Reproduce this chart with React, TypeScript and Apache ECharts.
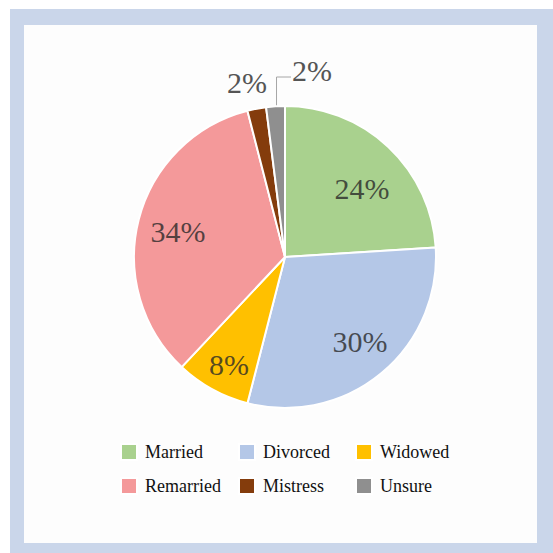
import React, { useEffect, useRef } from "react";
import * as echarts from "echarts";

const CATEGORIES = ["Married", "Divorced", "Widowed", "Remarried", "Mistress", "Unsure"];
const VALUES = [24, 30, 8, 34, 2, 2];
const COLORS = ["#a9d18e", "#b4c7e7", "#ffc000", "#f4999a", "#843c0c", "#8f8f8f"];

// legend grid placement (style only): column left edges and row tops
const LEGEND_COLS = [120, 238, 355];
const LEGEND_ROWS = [443, 477];

// label placement offsets relative to the pie centre (style only)
const PIE_CENTER = [285, 257];
const PIE_RADIUS = 151;
const LABEL_OFFSETS = [
  [77, -69],
  [75, 84],
  [-56, 107],
  [-107, -26],
  [-38, -175],
  [27, -187],
];

export default function App() {
  const ref = useRef<HTMLDivElement>(null);
  useEffect(() => {
    if (!ref.current) return;
    const chart = echarts.init(ref.current, undefined, { renderer: "svg" });
    const serif = "Liberation Serif";
    const labelFont = "'Liberation Serif', 'Times New Roman', Times, serif";
    const legends = CATEGORIES.map((name, i) => ({
      left: LEGEND_COLS[i % 3],
      top: LEGEND_ROWS[Math.floor(i / 3)],
      orient: "horizontal",
      icon: "rect",
      itemWidth: 16,
      itemHeight: 16,
      padding: 0,
      selectedMode: false,
      data: [name],
      formatter: "{t|{name}}",
      textStyle: {
        fontFamily: serif,
        fontSize: 18,
        color: "#111",
        rich: {
          t: { fontFamily: serif, fontSize: 18, color: "#111", padding: [0, 0, 0, 3] },
        },
      },
    }));
    chart.setOption({
      animation: false,
      backgroundColor: "#ffffff",
      textStyle: { fontFamily: labelFont },
      graphic: [
        {
          type: "rect",
          z: -10,
          shape: { x: 10, y: 9, width: 543, height: 544 },
          style: { fill: "#cad6ea" },
          silent: true,
        },
        {
          type: "rect",
          z: -9,
          shape: { x: 24, y: 25, width: 513, height: 518 },
          style: { fill: "#fdfdfd" },
          silent: true,
        },
      ],
      legend: legends,
      series: [
        {
          type: "pie",
          center: PIE_CENTER,
          radius: PIE_RADIUS,
          startAngle: 90,
          clockwise: true,
          avoidLabelOverlap: false,
          emphasis: { disabled: true },
          itemStyle: { borderColor: "#ffffff", borderWidth: 2 },
          label: {
            show: true,
            position: "inside",
            fontFamily: labelFont,
            fontSize: 30,
            formatter: "{p|{c}%}",
            rich: {
              p: {
                fontFamily: labelFont,
                fontSize: 30,
                color: "rgba(40,40,40,0.78)",
              },
            },
          },
          labelLine: { show: false },
          labelLayout: (params: any) => {
            const i = params.dataIndex;
            const off = LABEL_OFFSETS[i];
            const x = PIE_CENTER[0] + off[0];
            const y = PIE_CENTER[1] + off[1];
            const res: any = { x, y, align: "center", verticalAlign: "middle" };
            if (i === 5 && params.labelLinePoints) {
              const p0 = params.labelLinePoints[0];
              const w = params.labelRect.width;
              const ly = y + 7;
              res.labelLinePoints = [
                [p0[0] + 1, p0[1]],
                [p0[0] + 1, ly],
                [x - w / 2 - 1, ly],
              ];
            }
            return res;
          },
          data: CATEGORIES.map((name, i) => {
            const item: any = {
              name,
              value: VALUES[i],
              itemStyle: { color: COLORS[i] },
            };
            if (i >= 4) {
              item.label = {
                position: "outside",
                fontFamily: labelFont,
                fontSize: 30,
                formatter: "{p|{c}%}",
                rich: { p: { fontFamily: labelFont, fontSize: 30, color: "#555555" } },
              };
              item.labelLine = {
                show: i === 5,
                length: 15,
                length2: 15,
                lineStyle: { color: "#a6a6a6", width: 1 },
              };
            }
            return item;
          }),
        },
      ],
    });
    return () => chart.dispose();
  }, []);
  return (
    <div
      ref={ref}
      style={{ position: "fixed", left: 0, top: 0, width: 553, height: 553 }}
    />
  );
}
